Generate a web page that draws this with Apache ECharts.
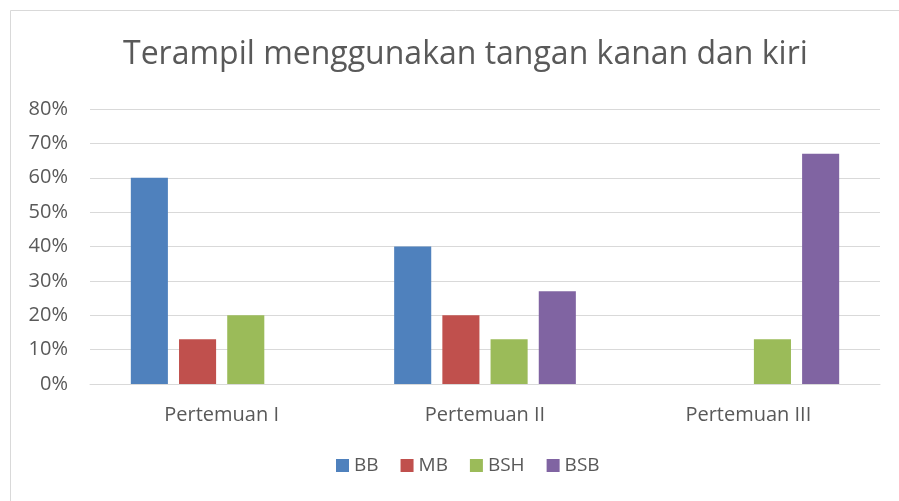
<!DOCTYPE html>
<html><head><meta charset="utf-8">
<script src="https://cdn.jsdelivr.net/npm/echarts@6/dist/echarts.min.js"></script>
<style>html,body{margin:0;padding:0;background:#fff}#c{width:899px;height:501px}</style>
</head><body><div id="c"></div>
<script>
const title = 'Terampil menggunakan tangan kanan dan kiri';
const categories = ['Pertemuan I', 'Pertemuan II', 'Pertemuan III'];
const seriesNames = ['BB', 'MB', 'BSH', 'BSB'];
const BB = [60, 40, 0];
const MB = [13, 20, 0];
const BSH = [20, 13, 13];
const BSB = [0, 27, 67];
const colors = ['#4f81bd', '#c0504d', '#9bbb59', '#8064a2'];
const values = [BB, MB, BSH, BSB];
const font = '"Open Sans", "Liberation Sans", sans-serif';
const chart = echarts.init(document.getElementById('c'), null, {renderer: 'canvas'});
chart.setOption({
  animation: false,
  backgroundColor: '#fff',
  graphic: [{type: 'rect', shape: {x: 10.5, y: 10.5, width: 1000, height: 1000}, style: {fill: 'none', stroke: '#d9d9d9', lineWidth: 1}, silent: true}],
  title: {text: title, left: 118, top: 34, textStyle: {fontFamily: font, fontSize: 32, fontWeight: 'normal', color: '#595959'}},
  legend: {bottom: 21, left: 331, itemWidth: 13, itemHeight: 13, itemGap: 22, icon: 'rect',
    textStyle: {fontFamily: font, fontSize: 19, color: '#595959'}, data: seriesNames},
  grid: {left: 90, right: 19, top: 109, bottom: 117, containLabel: false},
  xAxis: {type: 'category', data: categories,
    axisLine: {lineStyle: {color: '#d9d9d9', width: 1}}, axisTick: {show: false},
    axisLabel: {fontFamily: font, fontSize: 20, color: '#595959', margin: 21}},
  yAxis: {type: 'value', min: 0, max: 80, interval: 10,
    axisLine: {show: false}, axisTick: {show: false},
    splitLine: {lineStyle: {color: '#d9d9d9', width: 1}},
    axisLabel: {fontFamily: font, fontSize: 20, color: '#595959', margin: 22, formatter: '{value}%'}},
  series: seriesNames.map((n, i) => ({name: n, type: 'bar', data: values[i],
    itemStyle: {color: colors[i]}, barGap: '30%', barCategoryGap: '31%'}))
});
</script></body></html>
